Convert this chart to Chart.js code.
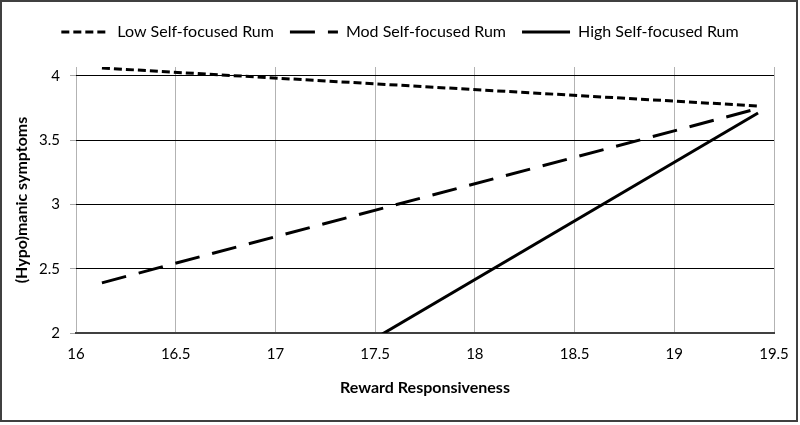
<!DOCTYPE html>
<html lang="en">
<head>
    <meta charset="UTF-8">
    <title>Reward Responsiveness</title>
    <script src="https://cdn.jsdelivr.net/npm/chart.js@4.4.0/dist/chart.umd.min.js"></script>
    <style>
        body { margin: 0; background: #fff; }
        #wrap { width: 800px; height: 425px; }
    </style>
</head>
<body>
    <div id="wrap"><canvas id="chart" width="800" height="425"></canvas></div>
    <script>
// values (mean -1 SD / +1 SD of reward responsiveness)
const xPoints = [16.13, 19.42];
const lowRum = [4.06, 3.765];
const modRum = [2.39, 3.745];
const highRum = [0.71, 3.71];
const seriesNames = ['Low Self-focused Rum', 'Mod Self-focused Rum', 'High Self-focused Rum'];
const yTicks = [2, 2.5, 3, 3.5, 4];

const FONT = 'Lato, "Open Sans", sans-serif';

function pts(ys) {
    return xPoints.map((x, i) => ({ x: x, y: ys[i] }));
}

// keep the legend block at a fixed height so the plot starts where it should
const legendHeight = {
    id: 'legendHeight',
    beforeInit(chart) {
        const fit = chart.legend.fit;
        chart.legend.fit = function () {
            fit.bind(chart.legend)();
            this.height = 59;
        };
    }
};

// outer frame of the figure
const frame = {
    id: 'frame',
    afterDraw(chart) {
        const c = chart.ctx;
        c.save();
        c.strokeStyle = '#404040';
        c.lineWidth = 2;
        c.strokeRect(1, 1, 796, 420);
        c.restore();
    }
};

const ctx = document.getElementById('chart').getContext('2d');
new Chart(ctx, {
    type: 'line',
    data: {
        datasets: [{
            label: seriesNames[0],
            data: pts(lowRum),
            borderColor: '#000',
            backgroundColor: '#000',
            borderWidth: 3,
            borderDash: [8, 4],
            pointRadius: 0,
            fill: false
        }, {
            label: seriesNames[1],
            data: pts(modRum),
            borderColor: '#000',
            backgroundColor: '#000',
            borderWidth: 3,
            borderDash: [25, 13],
            pointRadius: 0,
            fill: false
        }, {
            label: seriesNames[2],
            data: pts(highRum),
            borderColor: '#000',
            backgroundColor: '#000',
            borderWidth: 3,
            pointRadius: 0,
            fill: false
        }]
    },
    options: {
        responsive: false,
        animation: false,
        layout: { padding: { top: 8, left: 0, right: 0, bottom: 0 } },
        plugins: {
            tooltip: { enabled: false },
            legend: {
                position: 'top',
                labels: {
                    usePointStyle: true,
                    pointStyle: 'line',
                    pointStyleWidth: 48,
                    padding: 16,
                    color: '#000',
                    font: { family: FONT, size: 16 },
                    generateLabels(chart) {
                        const items = Chart.defaults.plugins.legend.labels.generateLabels(chart);
                        items.forEach(it => {
                            const ds = chart.data.datasets[it.datasetIndex];
                            it.lineDash = ds.borderDash || [];
                            it.lineWidth = 3;
                            it.strokeStyle = '#000';
                        });
                        return items;
                    }
                }
            }
        },
        scales: {
            x: {
                type: 'linear',
                min: 16,
                max: 19.5,
                ticks: {
                    stepSize: 0.5,
                    padding: 12,
                    color: '#000',
                    font: { family: FONT, size: 15 },
                    callback: v => String(v)
                },
                grid: { color: '#b3b3b3', lineWidth: 1, drawTicks: false },
                border: { display: true, color: '#404040', width: 2 },
                title: {
                    display: true,
                    text: 'Reward Responsiveness',
                    color: '#000',
                    font: { family: FONT, size: 16, weight: 'bold' },
                    padding: { top: 4, bottom: 28 }
                },
                afterFit(scale) {
                    scale.height = 92;
                    scale.paddingRight = 26;
                }
            },
            y: {
                min: 2,
                max: 4.068,
                afterBuildTicks(scale) {
                    scale.ticks = yTicks.map(v => ({ value: v }));
                },
                ticks: {
                    padding: 10,
                    color: '#000',
                    font: { family: FONT, size: 15 },
                    callback: v => String(v)
                },
                grid: { color: '#000', lineWidth: 1, tickColor: '#a6a6a6', tickLength: 6 },
                border: { display: false },
                title: {
                    display: true,
                    text: '(Hypo)manic symptoms',
                    color: '#000',
                    font: { family: FONT, size: 16, weight: 'bold' },
                    padding: { top: 12, bottom: 4 }
                },
                afterFit(scale) {
                    scale.width = 76;
                }
            }
        }
    },
    plugins: [legendHeight, frame]
});
    </script>
</body>
</html>
